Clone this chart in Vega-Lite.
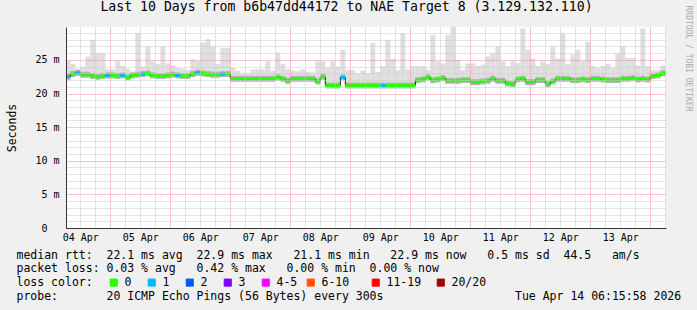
{
  "$schema": "https://vega.github.io/schema/vega-lite/v6.json",
  "width": 600,
  "height": 201,
  "autosize": "none",
  "padding": {"left": 66, "top": 27, "right": 31, "bottom": 82},
  "background": "#f0f0f0",
  "view": {"fill": "#ffffff", "stroke": null},
  "title": {
    "text": "Last 10 Days from b6b47dd44172 to NAE Target 8 (3.129.132.110)",
    "font": "DejaVu Sans Mono", "fontSize": 13.2, "fontWeight": "normal", "color": "#000000",
    "anchor": "middle", "dx": -19.5, "offset": -19, "baseline": "alphabetic"
  },
  "data": {"values": [
    {"start":"2026-04-04T06:00:00Z","end":"2026-04-04T08:00:00Z","median":22.5,"smoke_max":24.9,"loss":"1"},
    {"start":"2026-04-04T08:00:00Z","end":"2026-04-04T10:00:00Z","median":22.9,"smoke_max":24.4,"loss":"0"},
    {"start":"2026-04-04T10:00:00Z","end":"2026-04-04T12:00:00Z","median":23.1,"smoke_max":23.6,"loss":"1"},
    {"start":"2026-04-04T12:00:00Z","end":"2026-04-04T14:00:00Z","median":22.8,"smoke_max":24.0,"loss":"0"},
    {"start":"2026-04-04T14:00:00Z","end":"2026-04-04T16:00:00Z","median":22.8,"smoke_max":25.5,"loss":"0"},
    {"start":"2026-04-04T16:00:00Z","end":"2026-04-04T18:00:00Z","median":22.6,"smoke_max":28.0,"loss":"0"},
    {"start":"2026-04-04T18:00:00Z","end":"2026-04-04T20:00:00Z","median":22.5,"smoke_max":26.0,"loss":"0"},
    {"start":"2026-04-04T20:00:00Z","end":"2026-04-04T22:00:00Z","median":22.6,"smoke_max":26.0,"loss":"0"},
    {"start":"2026-04-04T22:00:00Z","end":"2026-04-05T00:00:00Z","median":22.7,"smoke_max":23.6,"loss":"1"},
    {"start":"2026-04-05T00:00:00Z","end":"2026-04-05T02:00:00Z","median":22.7,"smoke_max":23.6,"loss":"0"},
    {"start":"2026-04-05T02:00:00Z","end":"2026-04-05T04:00:00Z","median":22.6,"smoke_max":24.9,"loss":"0"},
    {"start":"2026-04-05T04:00:00Z","end":"2026-04-05T06:00:00Z","median":22.7,"smoke_max":24.1,"loss":"1"},
    {"start":"2026-04-05T06:00:00Z","end":"2026-04-05T08:00:00Z","median":22.4,"smoke_max":23.7,"loss":"0"},
    {"start":"2026-04-05T08:00:00Z","end":"2026-04-05T10:00:00Z","median":22.7,"smoke_max":23.3,"loss":"0"},
    {"start":"2026-04-05T10:00:00Z","end":"2026-04-05T12:00:00Z","median":22.8,"smoke_max":29.0,"loss":"0"},
    {"start":"2026-04-05T12:00:00Z","end":"2026-04-05T14:00:00Z","median":22.9,"smoke_max":24.0,"loss":"1"},
    {"start":"2026-04-05T14:00:00Z","end":"2026-04-05T16:00:00Z","median":23.0,"smoke_max":27.0,"loss":"0"},
    {"start":"2026-04-05T16:00:00Z","end":"2026-04-05T18:00:00Z","median":22.7,"smoke_max":24.8,"loss":"0"},
    {"start":"2026-04-05T18:00:00Z","end":"2026-04-05T20:00:00Z","median":22.6,"smoke_max":24.4,"loss":"0"},
    {"start":"2026-04-05T20:00:00Z","end":"2026-04-05T22:00:00Z","median":22.6,"smoke_max":27.0,"loss":"0"},
    {"start":"2026-04-05T22:00:00Z","end":"2026-04-06T00:00:00Z","median":22.7,"smoke_max":24.5,"loss":"0"},
    {"start":"2026-04-06T00:00:00Z","end":"2026-04-06T02:00:00Z","median":22.8,"smoke_max":24.2,"loss":"0"},
    {"start":"2026-04-06T02:00:00Z","end":"2026-04-06T04:00:00Z","median":22.7,"smoke_max":23.8,"loss":"1"},
    {"start":"2026-04-06T04:00:00Z","end":"2026-04-06T06:00:00Z","median":22.6,"smoke_max":23.7,"loss":"0"},
    {"start":"2026-04-06T06:00:00Z","end":"2026-04-06T08:00:00Z","median":22.6,"smoke_max":23.5,"loss":"0"},
    {"start":"2026-04-06T08:00:00Z","end":"2026-04-06T10:00:00Z","median":22.9,"smoke_max":25.1,"loss":"0"},
    {"start":"2026-04-06T10:00:00Z","end":"2026-04-06T12:00:00Z","median":23.1,"smoke_max":24.8,"loss":"1"},
    {"start":"2026-04-06T12:00:00Z","end":"2026-04-06T14:00:00Z","median":23.0,"smoke_max":27.6,"loss":"0"},
    {"start":"2026-04-06T14:00:00Z","end":"2026-04-06T16:00:00Z","median":22.9,"smoke_max":28.1,"loss":"0"},
    {"start":"2026-04-06T16:00:00Z","end":"2026-04-06T18:00:00Z","median":22.8,"smoke_max":27.0,"loss":"0"},
    {"start":"2026-04-06T18:00:00Z","end":"2026-04-06T20:00:00Z","median":22.8,"smoke_max":24.4,"loss":"0"},
    {"start":"2026-04-06T20:00:00Z","end":"2026-04-06T22:00:00Z","median":22.9,"smoke_max":26.8,"loss":"1"},
    {"start":"2026-04-06T22:00:00Z","end":"2026-04-07T00:00:00Z","median":22.9,"smoke_max":26.8,"loss":"0"},
    {"start":"2026-04-07T00:00:00Z","end":"2026-04-07T02:00:00Z","median":22.2,"smoke_max":23.8,"loss":"0"},
    {"start":"2026-04-07T02:00:00Z","end":"2026-04-07T04:00:00Z","median":22.2,"smoke_max":23.4,"loss":"0"},
    {"start":"2026-04-07T04:00:00Z","end":"2026-04-07T06:00:00Z","median":22.2,"smoke_max":22.9,"loss":"0"},
    {"start":"2026-04-07T06:00:00Z","end":"2026-04-07T08:00:00Z","median":22.2,"smoke_max":23.0,"loss":"0"},
    {"start":"2026-04-07T08:00:00Z","end":"2026-04-07T10:00:00Z","median":22.2,"smoke_max":23.6,"loss":"0"},
    {"start":"2026-04-07T10:00:00Z","end":"2026-04-07T12:00:00Z","median":22.2,"smoke_max":23.6,"loss":"0"},
    {"start":"2026-04-07T12:00:00Z","end":"2026-04-07T14:00:00Z","median":22.2,"smoke_max":23.6,"loss":"0"},
    {"start":"2026-04-07T14:00:00Z","end":"2026-04-07T16:00:00Z","median":22.2,"smoke_max":24.8,"loss":"0"},
    {"start":"2026-04-07T16:00:00Z","end":"2026-04-07T18:00:00Z","median":22.2,"smoke_max":23.4,"loss":"0"},
    {"start":"2026-04-07T18:00:00Z","end":"2026-04-07T20:00:00Z","median":22.4,"smoke_max":26.1,"loss":"0"},
    {"start":"2026-04-07T20:00:00Z","end":"2026-04-07T22:00:00Z","median":22.2,"smoke_max":24.4,"loss":"0"},
    {"start":"2026-04-07T22:00:00Z","end":"2026-04-08T00:00:00Z","median":21.9,"smoke_max":23.6,"loss":"0"},
    {"start":"2026-04-08T00:00:00Z","end":"2026-04-08T02:00:00Z","median":22.2,"smoke_max":23.4,"loss":"0"},
    {"start":"2026-04-08T02:00:00Z","end":"2026-04-08T04:00:00Z","median":22.2,"smoke_max":23.3,"loss":"0"},
    {"start":"2026-04-08T04:00:00Z","end":"2026-04-08T06:00:00Z","median":22.2,"smoke_max":23.6,"loss":"0"},
    {"start":"2026-04-08T06:00:00Z","end":"2026-04-08T08:00:00Z","median":22.2,"smoke_max":23.2,"loss":"0"},
    {"start":"2026-04-08T08:00:00Z","end":"2026-04-08T10:00:00Z","median":22.2,"smoke_max":23.1,"loss":"0"},
    {"start":"2026-04-08T10:00:00Z","end":"2026-04-08T12:00:00Z","median":21.8,"smoke_max":24.8,"loss":"0"},
    {"start":"2026-04-08T12:00:00Z","end":"2026-04-08T14:00:00Z","median":22.5,"smoke_max":24.8,"loss":"0"},
    {"start":"2026-04-08T14:00:00Z","end":"2026-04-08T16:00:00Z","median":21.2,"smoke_max":23.9,"loss":"0"},
    {"start":"2026-04-08T16:00:00Z","end":"2026-04-08T18:00:00Z","median":21.2,"smoke_max":24.8,"loss":"0"},
    {"start":"2026-04-08T18:00:00Z","end":"2026-04-08T20:00:00Z","median":21.2,"smoke_max":24.0,"loss":"0"},
    {"start":"2026-04-08T20:00:00Z","end":"2026-04-08T22:00:00Z","median":22.4,"smoke_max":26.5,"loss":"1"},
    {"start":"2026-04-08T22:00:00Z","end":"2026-04-09T00:00:00Z","median":21.2,"smoke_max":23.5,"loss":"0"},
    {"start":"2026-04-09T00:00:00Z","end":"2026-04-09T02:00:00Z","median":21.2,"smoke_max":23.5,"loss":"0"},
    {"start":"2026-04-09T02:00:00Z","end":"2026-04-09T04:00:00Z","median":21.2,"smoke_max":23.0,"loss":"0"},
    {"start":"2026-04-09T04:00:00Z","end":"2026-04-09T06:00:00Z","median":21.2,"smoke_max":23.4,"loss":"0"},
    {"start":"2026-04-09T06:00:00Z","end":"2026-04-09T08:00:00Z","median":21.2,"smoke_max":23.0,"loss":"0"},
    {"start":"2026-04-09T08:00:00Z","end":"2026-04-09T10:00:00Z","median":21.2,"smoke_max":27.5,"loss":"0"},
    {"start":"2026-04-09T10:00:00Z","end":"2026-04-09T12:00:00Z","median":21.2,"smoke_max":23.2,"loss":"0"},
    {"start":"2026-04-09T12:00:00Z","end":"2026-04-09T14:00:00Z","median":21.2,"smoke_max":24.1,"loss":"1"},
    {"start":"2026-04-09T14:00:00Z","end":"2026-04-09T16:00:00Z","median":21.2,"smoke_max":28.0,"loss":"0"},
    {"start":"2026-04-09T16:00:00Z","end":"2026-04-09T18:00:00Z","median":21.2,"smoke_max":25.2,"loss":"0"},
    {"start":"2026-04-09T18:00:00Z","end":"2026-04-09T20:00:00Z","median":21.2,"smoke_max":23.5,"loss":"0"},
    {"start":"2026-04-09T20:00:00Z","end":"2026-04-09T22:00:00Z","median":21.2,"smoke_max":29.0,"loss":"0"},
    {"start":"2026-04-09T22:00:00Z","end":"2026-04-10T00:00:00Z","median":21.2,"smoke_max":23.6,"loss":"0"},
    {"start":"2026-04-10T00:00:00Z","end":"2026-04-10T02:00:00Z","median":21.2,"smoke_max":24.1,"loss":"0"},
    {"start":"2026-04-10T02:00:00Z","end":"2026-04-10T04:00:00Z","median":22.0,"smoke_max":24.1,"loss":"0"},
    {"start":"2026-04-10T04:00:00Z","end":"2026-04-10T06:00:00Z","median":22.1,"smoke_max":24.1,"loss":"0"},
    {"start":"2026-04-10T06:00:00Z","end":"2026-04-10T08:00:00Z","median":22.4,"smoke_max":23.5,"loss":"0"},
    {"start":"2026-04-10T08:00:00Z","end":"2026-04-10T10:00:00Z","median":22.0,"smoke_max":28.7,"loss":"0"},
    {"start":"2026-04-10T10:00:00Z","end":"2026-04-10T12:00:00Z","median":22.1,"smoke_max":24.8,"loss":"0"},
    {"start":"2026-04-10T12:00:00Z","end":"2026-04-10T14:00:00Z","median":22.3,"smoke_max":24.5,"loss":"0"},
    {"start":"2026-04-10T14:00:00Z","end":"2026-04-10T16:00:00Z","median":21.9,"smoke_max":28.7,"loss":"0"},
    {"start":"2026-04-10T16:00:00Z","end":"2026-04-10T18:00:00Z","median":21.9,"smoke_max":29.9,"loss":"0"},
    {"start":"2026-04-10T18:00:00Z","end":"2026-04-10T20:00:00Z","median":21.9,"smoke_max":25.0,"loss":"0"},
    {"start":"2026-04-10T20:00:00Z","end":"2026-04-10T22:00:00Z","median":22.0,"smoke_max":23.5,"loss":"0"},
    {"start":"2026-04-10T22:00:00Z","end":"2026-04-11T00:00:00Z","median":22.0,"smoke_max":24.5,"loss":"0"},
    {"start":"2026-04-11T00:00:00Z","end":"2026-04-11T02:00:00Z","median":21.7,"smoke_max":24.5,"loss":"0"},
    {"start":"2026-04-11T02:00:00Z","end":"2026-04-11T04:00:00Z","median":21.7,"smoke_max":24.1,"loss":"0"},
    {"start":"2026-04-11T04:00:00Z","end":"2026-04-11T06:00:00Z","median":21.8,"smoke_max":24.3,"loss":"0"},
    {"start":"2026-04-11T06:00:00Z","end":"2026-04-11T08:00:00Z","median":21.9,"smoke_max":25.5,"loss":"0"},
    {"start":"2026-04-11T08:00:00Z","end":"2026-04-11T10:00:00Z","median":22.2,"smoke_max":26.0,"loss":"0"},
    {"start":"2026-04-11T10:00:00Z","end":"2026-04-11T12:00:00Z","median":21.9,"smoke_max":27.0,"loss":"0"},
    {"start":"2026-04-11T12:00:00Z","end":"2026-04-11T14:00:00Z","median":21.9,"smoke_max":24.8,"loss":"0"},
    {"start":"2026-04-11T14:00:00Z","end":"2026-04-11T16:00:00Z","median":21.5,"smoke_max":24.1,"loss":"0"},
    {"start":"2026-04-11T16:00:00Z","end":"2026-04-11T18:00:00Z","median":21.4,"smoke_max":24.8,"loss":"0"},
    {"start":"2026-04-11T18:00:00Z","end":"2026-04-11T20:00:00Z","median":22.1,"smoke_max":24.5,"loss":"0"},
    {"start":"2026-04-11T20:00:00Z","end":"2026-04-11T22:00:00Z","median":22.2,"smoke_max":29.7,"loss":"0"},
    {"start":"2026-04-11T22:00:00Z","end":"2026-04-12T00:00:00Z","median":21.7,"smoke_max":26.5,"loss":"0"},
    {"start":"2026-04-12T00:00:00Z","end":"2026-04-12T02:00:00Z","median":21.7,"smoke_max":25.2,"loss":"0"},
    {"start":"2026-04-12T02:00:00Z","end":"2026-04-12T04:00:00Z","median":22.0,"smoke_max":24.1,"loss":"0"},
    {"start":"2026-04-12T04:00:00Z","end":"2026-04-12T06:00:00Z","median":22.0,"smoke_max":24.8,"loss":"0"},
    {"start":"2026-04-12T06:00:00Z","end":"2026-04-12T08:00:00Z","median":21.4,"smoke_max":24.4,"loss":"0"},
    {"start":"2026-04-12T08:00:00Z","end":"2026-04-12T10:00:00Z","median":21.8,"smoke_max":27.0,"loss":"0"},
    {"start":"2026-04-12T10:00:00Z","end":"2026-04-12T12:00:00Z","median":22.2,"smoke_max":25.2,"loss":"0"},
    {"start":"2026-04-12T12:00:00Z","end":"2026-04-12T14:00:00Z","median":22.2,"smoke_max":29.0,"loss":"0"},
    {"start":"2026-04-12T14:00:00Z","end":"2026-04-12T16:00:00Z","median":22.2,"smoke_max":24.4,"loss":"0"},
    {"start":"2026-04-12T16:00:00Z","end":"2026-04-12T18:00:00Z","median":22.0,"smoke_max":25.8,"loss":"0"},
    {"start":"2026-04-12T18:00:00Z","end":"2026-04-12T20:00:00Z","median":22.0,"smoke_max":26.5,"loss":"0"},
    {"start":"2026-04-12T20:00:00Z","end":"2026-04-12T22:00:00Z","median":22.1,"smoke_max":24.8,"loss":"0"},
    {"start":"2026-04-12T22:00:00Z","end":"2026-04-13T00:00:00Z","median":22.0,"smoke_max":27.7,"loss":"0"},
    {"start":"2026-04-13T00:00:00Z","end":"2026-04-13T02:00:00Z","median":22.2,"smoke_max":24.1,"loss":"0"},
    {"start":"2026-04-13T02:00:00Z","end":"2026-04-13T04:00:00Z","median":22.2,"smoke_max":23.8,"loss":"0"},
    {"start":"2026-04-13T04:00:00Z","end":"2026-04-13T06:00:00Z","median":22.1,"smoke_max":24.1,"loss":"0"},
    {"start":"2026-04-13T06:00:00Z","end":"2026-04-13T08:00:00Z","median":22.0,"smoke_max":24.4,"loss":"0"},
    {"start":"2026-04-13T08:00:00Z","end":"2026-04-13T10:00:00Z","median":22.0,"smoke_max":23.8,"loss":"0"},
    {"start":"2026-04-13T10:00:00Z","end":"2026-04-13T12:00:00Z","median":22.0,"smoke_max":26.0,"loss":"0"},
    {"start":"2026-04-13T12:00:00Z","end":"2026-04-13T14:00:00Z","median":22.2,"smoke_max":27.0,"loss":"0"},
    {"start":"2026-04-13T14:00:00Z","end":"2026-04-13T16:00:00Z","median":22.2,"smoke_max":25.3,"loss":"0"},
    {"start":"2026-04-13T16:00:00Z","end":"2026-04-13T18:00:00Z","median":22.3,"smoke_max":25.3,"loss":"0"},
    {"start":"2026-04-13T18:00:00Z","end":"2026-04-13T20:00:00Z","median":22.1,"smoke_max":24.2,"loss":"0"},
    {"start":"2026-04-13T20:00:00Z","end":"2026-04-13T22:00:00Z","median":22.2,"smoke_max":29.7,"loss":"0"},
    {"start":"2026-04-13T22:00:00Z","end":"2026-04-14T00:00:00Z","median":22.1,"smoke_max":24.1,"loss":"0"},
    {"start":"2026-04-14T00:00:00Z","end":"2026-04-14T02:00:00Z","median":22.6,"smoke_max":23.5,"loss":"0"},
    {"start":"2026-04-14T02:00:00Z","end":"2026-04-14T04:00:00Z","median":22.7,"smoke_max":23.5,"loss":"0"},
    {"start":"2026-04-14T04:00:00Z","end":"2026-04-14T06:00:00Z","median":23.0,"smoke_max":24.2,"loss":"0"},
    {"start":"2026-04-14T06:00:00Z","end":"2026-04-14T08:00:00Z","median":23.0,"smoke_max":24.2,"loss":"0"}
  ]},
  "layer": [
    {
      "mark": {"type": "rect", "color": "#dedede", "clip": true},
      "encoding": {
        "x": {"field": "start", "type": "temporal",
          "scale": {"type": "utc", "domain": [{"year": 2026, "month": 4, "date": 4, "hours": 6, "minutes": 16, "utc": true}, {"year": 2026, "month": 4, "date": 14, "hours": 6, "minutes": 16, "utc": true}]},
          "axis": {"orient": "bottom", "grid": true, "gridDash": [1, 1],
            "gridColor": {"condition": {"test": "utchours(datum.value) == 0", "value": "#f08c8c"}, "value": "#c8c8c8"},
            "values": [
              {"year":2026,"month":4,"date":4,"hours":12,"utc":true},{"year":2026,"month":4,"date":4,"hours":18,"utc":true},
              {"year":2026,"month":4,"date":5,"hours":0,"utc":true},{"year":2026,"month":4,"date":5,"hours":6,"utc":true},{"year":2026,"month":4,"date":5,"hours":12,"utc":true},{"year":2026,"month":4,"date":5,"hours":18,"utc":true},
              {"year":2026,"month":4,"date":6,"hours":0,"utc":true},{"year":2026,"month":4,"date":6,"hours":6,"utc":true},{"year":2026,"month":4,"date":6,"hours":12,"utc":true},{"year":2026,"month":4,"date":6,"hours":18,"utc":true},
              {"year":2026,"month":4,"date":7,"hours":0,"utc":true},{"year":2026,"month":4,"date":7,"hours":6,"utc":true},{"year":2026,"month":4,"date":7,"hours":12,"utc":true},{"year":2026,"month":4,"date":7,"hours":18,"utc":true},
              {"year":2026,"month":4,"date":8,"hours":0,"utc":true},{"year":2026,"month":4,"date":8,"hours":6,"utc":true},{"year":2026,"month":4,"date":8,"hours":12,"utc":true},{"year":2026,"month":4,"date":8,"hours":18,"utc":true},
              {"year":2026,"month":4,"date":9,"hours":0,"utc":true},{"year":2026,"month":4,"date":9,"hours":6,"utc":true},{"year":2026,"month":4,"date":9,"hours":12,"utc":true},{"year":2026,"month":4,"date":9,"hours":18,"utc":true},
              {"year":2026,"month":4,"date":10,"hours":0,"utc":true},{"year":2026,"month":4,"date":10,"hours":6,"utc":true},{"year":2026,"month":4,"date":10,"hours":12,"utc":true},{"year":2026,"month":4,"date":10,"hours":18,"utc":true},
              {"year":2026,"month":4,"date":11,"hours":0,"utc":true},{"year":2026,"month":4,"date":11,"hours":6,"utc":true},{"year":2026,"month":4,"date":11,"hours":12,"utc":true},{"year":2026,"month":4,"date":11,"hours":18,"utc":true},
              {"year":2026,"month":4,"date":12,"hours":0,"utc":true},{"year":2026,"month":4,"date":12,"hours":6,"utc":true},{"year":2026,"month":4,"date":12,"hours":12,"utc":true},{"year":2026,"month":4,"date":12,"hours":18,"utc":true},
              {"year":2026,"month":4,"date":13,"hours":0,"utc":true},{"year":2026,"month":4,"date":13,"hours":6,"utc":true},{"year":2026,"month":4,"date":13,"hours":12,"utc":true},{"year":2026,"month":4,"date":13,"hours":18,"utc":true},
              {"year":2026,"month":4,"date":14,"hours":0,"utc":true},{"year":2026,"month":4,"date":14,"hours":6,"utc":true}
            ],
            "labelExpr": "utchours(datum.value) == 12 ? utcFormat(datum.value, '%d %b') : ''",
            "labelOverlap": false, "labelFlush": false,
            "labelFont": "DejaVu Sans Mono", "labelFontSize": 10, "labelColor": "#000000", "labelPadding": 4, "labelBaseline": "top",
            "ticks": false, "domain": true, "domainColor": "#333333",
            "title": [
              "median rtt:\u00a0\u00a022.1 ms avg\u00a0\u00a022.9 ms max\u00a0\u00a0\u00a021.1 ms min\u00a0\u00a0\u00a022.9 ms now\u00a0\u00a0\u00a00.5 ms sd\u00a0\u00a044.5\u00a0\u00a0\u00a0am/s",
              "packet loss: 0.03 % avg\u00a0\u00a0\u00a00.42 % max\u00a0\u00a0\u00a00.00 % min\u00a0\u00a00.00 % now",
              "loss color:",
              "probe:\u00a0\u00a0\u00a0\u00a0\u00a0\u00a0\u00a020 ICMP Echo Pings (56 Bytes) every 300s\u00a0\u00a0\u00a0\u00a0\u00a0\u00a0\u00a0\u00a0\u00a0\u00a0\u00a0\u00a0\u00a0\u00a0\u00a0\u00a0\u00a0\u00a0\u00a0Tue Apr 14 06:15:58 2026"
            ],
            "titleFont": "DejaVu Sans Mono", "titleFontSize": 11.5, "titleFontWeight": "normal", "titleColor": "#000000",
            "titleAnchor": "start", "titleAlign": "left", "titleBaseline": "alphabetic", "titleX": -50, "titleY": 30, "titleLineHeight": 13.9, "zindex": 1}},
        "x2": {"field": "end"},
        "y": {"field": "median", "type": "quantitative", "scale": {"domain": [0, 29.9], "nice": false, "zero": true},
          "axis": {"orient": "left", "grid": true, "gridDash": [1, 1],
            "gridColor": {"condition": {"test": "datum.value % 5 == 0", "value": "#f08c8c"}, "value": "#c8c8c8"},
            "values": [0,1,2,3,4,5,6,7,8,9,10,11,12,13,14,15,16,17,18,19,20,21,22,23,24,25,26,27,28,29],
            "labelExpr": "datum.value % 5 != 0 ? '' : datum.value == 0 ? '0\u00a0\u00a0\u200b' : datum.value + '\u00a0m'",
            "labelOverlap": false, "labelFlush": false,
            "labelFont": "DejaVu Sans Mono", "labelFontSize": 10, "labelColor": "#000000", "labelPadding": 7, "ticks": false,
            "domain": true, "domainColor": "#333333",
            "title": "Seconds", "titleFont": "DejaVu Sans Mono", "titleFontSize": 11.5, "titleFontWeight": "normal", "titleColor": "#000000", "titlePadding": 17, "zindex": 1}},
        "y2": {"field": "smoke_max"}
      }
    },
    {
      "mark": {"type": "rule", "color": "#b2b2b2", "strokeWidth": 6, "clip": true},
      "encoding": {
        "x": {"field": "start", "type": "temporal", "axis": null},
        "x2": {"field": "end"},
        "y": {"field": "median", "type": "quantitative", "axis": null}
      }
    },
    {
      "mark": {"type": "line", "interpolate": "step-after", "color": "#1a1a1a", "strokeWidth": 1, "clip": true},
      "encoding": {
        "x": {"field": "start", "type": "temporal", "axis": null},
        "y": {"field": "median", "type": "quantitative",
          "axis": {"orient": "right", "grid": false, "labels": false, "ticks": false, "domain": false,
            "title": "RRDTOOL / TOBI OETIKER", "titleAngle": 90, "titleFont": "DejaVu Sans Mono", "titleFontSize": 8, "titleFontWeight": "normal", "titleColor": "#aaaaaa",
            "titleAlign": "left", "titleBaseline": "middle", "titleX": 21, "titleY": -22}}
      }
    },
    {
      "mark": {"type": "rule", "strokeWidth": 3, "opacity": 1, "clip": true},
      "encoding": {
        "x": {"field": "start", "type": "temporal", "axis": null},
        "x2": {"field": "end"},
        "y": {"field": "median", "type": "quantitative", "axis": null},
        "color": {"field": "loss", "type": "nominal",
          "scale": {"domain": ["0", "1", "2", "3", "4-5", "6-10", "11-19", "20/20"], "range": ["#26ff00", "#00b8ff", "#0059ff", "#7e00ff", "#ff00ff", "#ff5500", "#ff0000", "#a00000"]},
          "legend": {"orient": "none", "legendX": 42, "legendY": 249.5, "direction": "horizontal", "title": null,
            "symbolType": "square", "symbolSize": 50, "symbolOpacity": 1, "symbolStrokeWidth": 1,
            "labelFont": "DejaVu Sans Mono", "labelFontSize": 11.5, "labelColor": "#000000", "labelOffset": 5, "columnPadding": 0, "padding": 0,
            "labelExpr": "datum.label == '4-5' ? '4-5\u00a0\u200b' : datum.label == '6-10' ? '6-10\u00a0\u00a0\u00a0\u200b' : datum.label == '11-19' ? '11-19\u00a0\u00a0\u200b' : length(datum.label) == 1 ? datum.label + '\u00a0\u00a0\u200b' : datum.label",
            "encode": {"symbols": {"update": {"fill": {"scale": "color", "field": "value"}, "stroke": {"value": "#000000"}, "strokeWidth": {"value": 1}}}}}}
      }
    }
  ],
  "resolve": {"axis": {"x": "independent", "y": "independent"}}
}
